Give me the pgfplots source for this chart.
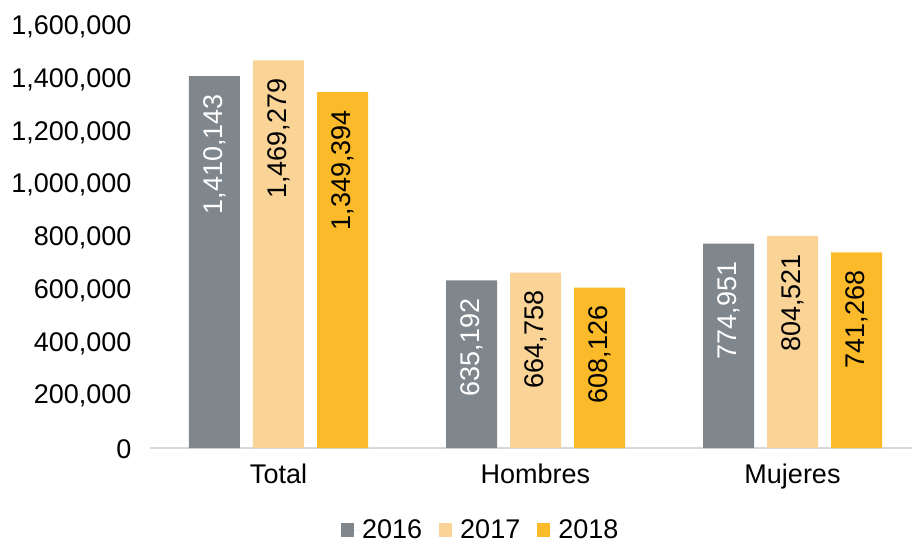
\documentclass[border=0pt]{standalone}
\usepackage{pgfplots}
\usepackage{pgfplotstable}
\pgfplotsset{compat=1.18}
\usepackage{fontspec}
\setmainfont{Liberation Sans}
\definecolor{cgray}{HTML}{7F878C}
\definecolor{clight}{HTML}{FAD396}
\definecolor{cgold}{HTML}{FBBA2A}
\definecolor{caxis}{HTML}{D9D9D9}
\newcommand\cf{\fontsize{27bp}{31bp}\selectfont}

\pgfplotstableread{
x y label
0 1410143 {1,410,143}
1 635192 {635,192}
2 774951 {774,951}
}\dataA
\pgfplotstableread{
x y label
0 1469279 {1,469,279}
1 664758 {664,758}
2 804521 {804,521}
}\dataB
\pgfplotstableread{
x y label
0 1349394 {1,349,394}
1 608126 {608,126}
2 741268 {741,268}
}\dataC

\begin{document}
\begin{tikzpicture}[x=1bp,y=1bp]
\begin{axis}[
  at={(0bp,0bp)}, anchor=south west,
  scale only axis,
  width=771bp, height=422bp,
  xmin=-0.5, xmax=2.5,
  ymin=0, ymax=1600000,
  ybar=13bp, bar width=51bp,
  xtick={0,1,2},
  xticklabels={Total,Hombres,Mujeres},
  ytick={0,200000,400000,600000,800000,1000000,1200000,1400000,1600000},
  scaled y ticks=false,
  /pgf/number format/assume math mode=true,
  yticklabel style={/pgf/number format/fixed,/pgf/number format/precision=0,/pgf/number format/1000 sep={,}, xshift=-15bp, yshift=-1bp},
  xticklabel style={yshift=-12bp},
  ticklabel style={font=\cf},
  major tick length=0pt,
  axis x line*=bottom,
  axis y line*=left,
  x axis line style={draw=caxis, line width=1.5bp, -},
  y axis line style={draw=none},
  point meta=explicit symbolic,
  nodes near coords,
  every node near coord/.append style={font=\cf, rotate=90, anchor=east, inner xsep=18bp},
  legend style={draw=none, fill=none, at={(rel axis cs:0.429,-0.195)}, anchor=center,
    legend columns=3, font=\cf, inner sep=0pt,
    /tikz/every even column/.append style={column sep=15bp}},
  legend image code/.code={\fill[#1] (0bp,-7bp) rectangle (13bp,7bp); \path (0bp,0bp) -- (19bp,0bp);},
  clip=false,
]
\addplot[fill=cgray, draw=none, every node near coord/.append style={text=white}] table[x=x,y=y,meta=label] {\dataA};
\addplot[fill=clight, draw=none, every node near coord/.append style={text=black}] table[x=x,y=y,meta=label] {\dataB};
\addplot[fill=cgold, draw=none, every node near coord/.append style={text=black}] table[x=x,y=y,meta=label] {\dataC};
\legend{2016,2017,2018}
\end{axis}
\pgfresetboundingbox
\path (-150bp,-96bp) rectangle (762bp,448bp);
\end{tikzpicture}
\end{document}
